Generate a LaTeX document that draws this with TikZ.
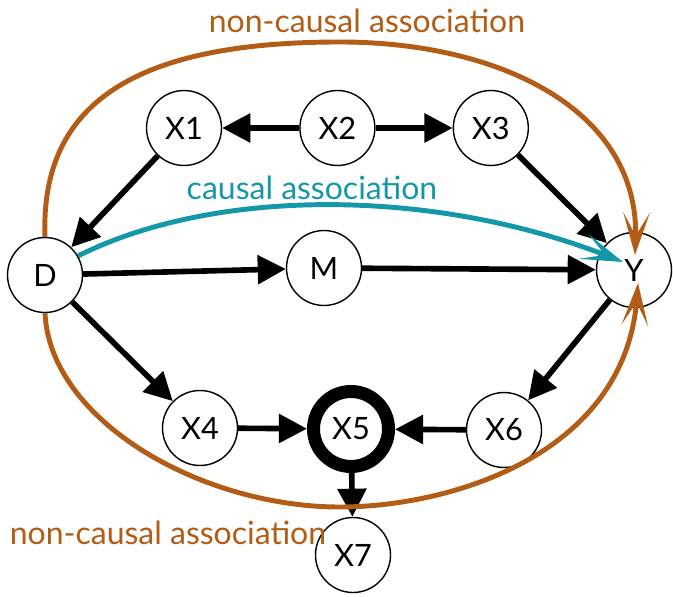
\documentclass[tikz,border=0pt]{standalone}
\usepackage{fontspec}
\setmainfont{Lato}
\usepackage{xcolor}
\usetikzlibrary{positioning, arrows.meta}
\definecolor{assocorange}{HTML}{B35C16}
\definecolor{assocteal}{HTML}{1497A9}

\begin{document}
\begin{tikzpicture}[
    var/.style={draw=black, line width=0.8pt, circle, fill=white, minimum size=1.5cm, inner sep=0pt, font=\fontsize{17.5}{20}\selectfont},
    collider/.style={var, line width=7.4pt},
    edge/.style={line width=3.2pt, -{Triangle[length=16pt, width=16pt]}},
    assoc/.style={line width=2.8pt, -{Stealth[length=24pt, width=15pt, inset=13pt]}},
    assoclabel/.style={font=\fontsize{18.2}{21}\selectfont}
]
\useasboundingbox (0,0) rectangle (13.46,11.92);

% Knoten
\node[var] (D) at (0.9,6.42) {D};
\node[var] (M) at (6.48,6.56) {M};
\node[var] (Y) at (12.68,6.52) {Y};
\node[var] (X1) at (3.68,9.36) {X1};
\node[var, right=1.54cm of X1] (X2) {X2};
\node[var, right=1.54cm of X2] (X3) {X3};
\node[var] (X4) at (4.0,3.36) {X4};
\node[collider] (X5) at (7.02,3.34) {X5};
\node[var] (X6) at (10.08,3.32) {X6};
\node[var] (X7) at (7.06,0.82) {X7};

% Kanten zwischen Knoten
\draw[edge] (X2) -- (X1);
\draw[edge] (X2) -- (X3);
\draw[edge] (X1) -- (D);
\draw[edge] (X3) -- (Y);
\draw[edge] (D) -- (M);
\draw[edge] (M) -- (Y);
\draw[edge] (D) -- (X4);
\draw[edge] (Y) -- (X6);
\draw[edge] (X4) -- (X5);
\draw[edge] (X6) -- (X5);
\draw[edge] (X5) -- (X7);

% Pfade
\coordinate (topend) at (12.7,6.82);
\coordinate (bottomend) at (12.76,6.26);
\coordinate (causalend) at (12.46,6.68);
\draw[assoc, assocorange] (D.north) .. controls (0.8,9.92) and (2.8,11.08) .. (6.8,11.08) .. controls (10.0,11.08) and (12.8,9.72) .. (topend);
\draw[assoc, assocorange] (D.south) .. controls (1.0,3.52) and (4.0,1.78) .. (6.8,1.78) .. controls (9.0,1.78) and (12.5,2.82) .. (bottomend);
\draw[assoc, assocteal] (D.30) .. controls (4.4,8.22) and (8.8,8.12) .. (causalend);

% Beschriftungen
\node[assoclabel, text=assocorange] (nctop) at (7.34,11.5) {non-causal association};
\node[assoclabel, text=assocteal] (causal) at (6.24,8.16) {causal association};
\node[assoclabel, text=assocorange] (ncbottom) at (3.36,1.27) {non-causal association};

\end{tikzpicture}
\end{document}
